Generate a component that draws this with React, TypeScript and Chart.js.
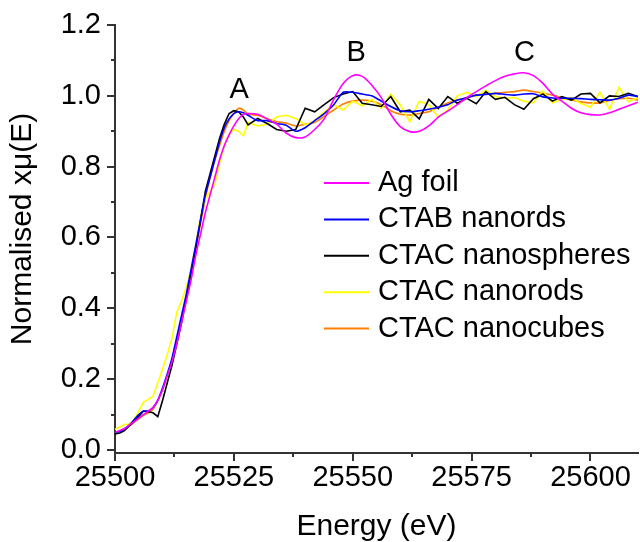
import React, { useEffect, useRef } from "react";
import { Chart, registerables } from "chart.js";

Chart.register(...registerables);

// Energy grid (eV)
const energy = [
  25500, 25501, 25502, 25503, 25504, 25505, 25506, 25507, 25508, 25509,
  25510, 25511, 25512, 25513, 25514, 25515, 25516, 25517, 25518, 25519,
  25520, 25521, 25522, 25523, 25524, 25525, 25526, 25527, 25528,
  25530, 25532, 25534, 25536, 25538, 25540, 25542, 25544, 25546, 25548,
  25550, 25552, 25554, 25556, 25558, 25560, 25562, 25564, 25566, 25568,
  25570, 25572, 25574, 25576, 25578, 25580, 25582, 25584, 25586, 25588,
  25590, 25592, 25594, 25596, 25598, 25600, 25602, 25604, 25606, 25608, 25610,
];

const agFoil = [
  0.05, 0.055, 0.06, 0.07, 0.08, 0.09, 0.1, 0.11, 0.12, 0.14,
  0.17, 0.21, 0.25, 0.3, 0.36, 0.42, 0.48, 0.55, 0.61, 0.67,
  0.72, 0.77, 0.82, 0.86, 0.89, 0.915, 0.935, 0.948, 0.95,
  0.948, 0.935, 0.92, 0.895, 0.882, 0.884, 0.905, 0.935, 0.99, 1.035,
  1.057, 1.055, 1.03, 0.995, 0.948, 0.913, 0.899, 0.9, 0.915, 0.94,
  0.957, 0.975, 0.995, 1.012, 1.028, 1.043, 1.055, 1.062, 1.065, 1.057,
  1.035, 1.005, 0.985, 0.965, 0.952, 0.947, 0.946, 0.952, 0.962, 0.972, 0.982,
];

const ctabNanords = [
  0.05, 0.052, 0.06, 0.07, 0.085, 0.1, 0.11, 0.11, 0.12, 0.14,
  0.175, 0.215, 0.26, 0.32, 0.38, 0.44, 0.51, 0.58, 0.65, 0.72,
  0.77, 0.82, 0.87, 0.91, 0.935, 0.95, 0.955, 0.952, 0.945,
  0.93, 0.93, 0.922, 0.917, 0.9, 0.91, 0.93, 0.95, 0.975, 1.01,
  1.01, 1.005, 1.0, 0.985, 0.97, 0.958, 0.955, 0.958, 0.962, 0.968,
  0.975, 0.988, 0.995, 1.002, 1.004, 1.007, 1.004, 1.002, 1.005, 1.006,
  0.997, 0.994, 0.993, 0.993, 0.992, 0.99, 0.989, 0.988, 0.993, 1.002, 0.998,
];

const ctacNanospheres = [
  0.045, 0.048, 0.055, 0.068, 0.08, 0.095, 0.11, 0.108, 0.105, 0.094,
  0.14, 0.19, 0.24, 0.3, 0.36, 0.43, 0.5, 0.57, 0.65, 0.73,
  0.78, 0.83, 0.88, 0.92, 0.95, 0.958, 0.955, 0.94, 0.918,
  0.936, 0.922, 0.905, 0.9, 0.905, 0.965, 0.955, 0.975, 0.995, 1.005,
  1.012, 0.979, 0.975, 0.97, 0.998, 0.955, 0.96, 0.935, 0.99, 0.964,
  0.998, 0.979, 0.993, 0.978, 1.012, 0.99, 0.996, 0.975, 0.962, 0.992,
  1.005, 0.985, 0.998, 0.988, 1.005, 1.007, 0.98, 1.0, 0.998, 1.007, 0.998,
];

const ctacNanorods = [
  0.058, 0.065, 0.072, 0.073, 0.085, 0.11, 0.135, 0.143, 0.152, 0.19,
  0.228, 0.27, 0.316, 0.39, 0.42, 0.46, 0.51, 0.58, 0.66, 0.71,
  0.73, 0.75, 0.81, 0.86, 0.89, 0.905, 0.9, 0.887, 0.925,
  0.915, 0.92, 0.94, 0.945, 0.936, 0.918, 0.93, 0.955, 0.975, 0.96,
  0.985, 0.972, 0.99, 0.965, 1.005, 0.974, 0.927, 0.985, 0.975, 0.94,
  0.96, 1.0, 1.01, 0.998, 1.016, 0.998, 0.993, 0.995, 0.985, 0.98,
  1.014, 0.98, 0.99, 0.995, 0.978, 0.968, 1.01, 0.962, 1.024, 0.983, 0.995,
];

const ctacNanocubes = [
  0.05, 0.053, 0.06, 0.068, 0.078, 0.088, 0.098, 0.105, 0.115, 0.14,
  0.17, 0.21, 0.255, 0.31, 0.37, 0.43, 0.5, 0.57, 0.64, 0.71,
  0.77, 0.82, 0.86, 0.9, 0.93, 0.95, 0.965, 0.96, 0.948,
  0.945, 0.935, 0.927, 0.923, 0.915, 0.92, 0.925, 0.942, 0.96, 0.977,
  0.985, 0.988, 0.985, 0.975, 0.958, 0.948, 0.946, 0.95, 0.955, 0.968,
  0.98, 0.988, 0.995, 1.002, 1.005, 1.007, 1.01, 1.012, 1.016, 1.012,
  1.007, 1.002, 0.995, 0.988, 0.983, 0.98, 0.98, 0.987, 0.992, 0.993, 0.988,
];

const seriesNames = ["Ag foil", "CTAB nanords", "CTAC nanospheres", "CTAC nanorods", "CTAC nanocubes"];
const seriesValues = [agFoil, ctabNanords, ctacNanospheres, ctacNanorods, ctacNanocubes];
const seriesColors = ["#FF00FF", "#0000FF", "#000000", "#FFFF00", "#FF7F00"];
const seriesTension = [0.3, 0.2, 0, 0, 0.2];

const xMajorTicks = [25500, 25525, 25550, 25575, 25600];
const xMinorTicks = [25512.5, 25537.5, 25562.5, 25587.5];
const yMajorTicks = [0, 0.2, 0.4, 0.6, 0.8, 1.0, 1.2];
const yMinorTicks = [0.1, 0.3, 0.5, 0.7, 0.9, 1.1];

const peakLabels = ["A", "B", "C"];
const peakEnergies = [25526.1, 25550.7, 25586.1];
const peakLevels = [1.016, 1.12, 1.12];

const xTitle = "Energy (eV)";
const yTitle = "Normalised x\u03BC(E)";

const FONT = "'Liberation Sans', Arial, Helvetica, sans-serif";
const AXIS_COLOR = "#333333";

const decorPlugin = {
  id: "decor",
  afterDraw(chart: any) {
    const ctx = chart.ctx as CanvasRenderingContext2D;
    const xs = chart.scales.x;
    const ys = chart.scales.y;
    const ca = chart.chartArea;
    ctx.save();

    // tick marks
    ctx.strokeStyle = AXIS_COLOR;
    ctx.lineWidth = 2;
    const tickX = (v: number, len: number) => {
      const px = Math.round(xs.getPixelForValue(v));
      ctx.beginPath();
      ctx.moveTo(px, ca.bottom);
      ctx.lineTo(px, ca.bottom + len);
      ctx.stroke();
    };
    const tickY = (v: number, len: number) => {
      const py = Math.round(ys.getPixelForValue(v));
      ctx.beginPath();
      ctx.moveTo(ca.left, py);
      ctx.lineTo(ca.left - len, py);
      ctx.stroke();
    };
    xMajorTicks.forEach((v) => tickX(v, 8));
    xMinorTicks.forEach((v) => tickX(v, 4));
    yMajorTicks.forEach((v) => tickY(v, 8));
    yMinorTicks.forEach((v) => tickY(v, 4));

    // peak labels
    ctx.fillStyle = "#000";
    ctx.font = `29px ${FONT}`;
    ctx.textAlign = "center";
    ctx.textBaseline = "middle";
    peakLabels.forEach((t, i) => {
      ctx.fillText(t, xs.getPixelForValue(peakEnergies[i]), ys.getPixelForValue(peakLevels[i]));
    });

    // legend
    const lx = ca.left + 209;
    const ly = ca.top + 158;
    const rowH = 36.4;
    ctx.textAlign = "left";
    seriesNames.forEach((name, i) => {
      const y = ly + i * rowH;
      ctx.strokeStyle = seriesColors[i];
      ctx.lineWidth = 2;
      ctx.beginPath();
      ctx.moveTo(lx, y);
      ctx.lineTo(lx + 45, y);
      ctx.stroke();
      ctx.fillStyle = "#000";
      ctx.fillText(name, lx + 54, y);
    });

    // axis titles
    ctx.font = `30px ${FONT}`;
    ctx.textAlign = "center";
    ctx.fillText(xTitle, (ca.left + ca.right) / 2, ca.bottom + 74);
    ctx.save();
    ctx.translate(23, (ca.top + ca.bottom) / 2 - 10);
    ctx.rotate(-Math.PI / 2);
    ctx.fillText(yTitle, 0, 0);
    ctx.restore();

    ctx.restore();
  },
};

export default function App() {
  const canvasRef = useRef<HTMLCanvasElement | null>(null);

  useEffect(() => {
    if (!canvasRef.current) return;
    const datasets = seriesNames.map((name, i) => ({
      label: name,
      data: energy.map((e, k) => ({ x: e, y: seriesValues[i][k] })),
      borderColor: seriesColors[i],
      backgroundColor: seriesColors[i],
      borderWidth: 1.6,
      pointRadius: 0,
      tension: seriesTension[i],
      fill: false,
    }));

    const chart = new Chart(canvasRef.current, {
      type: "line",
      data: { datasets },
      plugins: [decorPlugin],
      options: {
        animation: false,
        responsive: false,
        maintainAspectRatio: false,
        layout: { padding: { top: 25, right: 2, left: 0, bottom: 0 } },
        plugins: {
          legend: { display: false },
          tooltip: { enabled: false },
          title: { display: false },
        },
        scales: {
          x: {
            type: "linear",
            min: 25500,
            max: 25610,
            afterBuildTicks: (scale: any) => {
              scale.ticks = xMajorTicks.map((v) => ({ value: v }));
            },
            afterFit: (scale: any) => {
              scale.height = 89;
              scale.paddingLeft = 0;
              scale.paddingRight = 0;
            },
            grid: { display: false, drawTicks: false, tickLength: 0 },
            border: { display: true, color: AXIS_COLOR, width: 2 },
            ticks: {
              padding: 8,
              maxRotation: 0,
              autoSkip: false,
              color: "#000",
              font: { family: FONT, size: 29 },
              callback: (v: any) => String(v),
            },
          },
          y: {
            type: "linear",
            min: -0.0085,
            max: 1.2,
            afterBuildTicks: (scale: any) => {
              scale.ticks = yMajorTicks.map((v) => ({ value: v }));
            },
            afterFit: (scale: any) => {
              scale.width = 115;
              scale.paddingTop = 0;
              scale.paddingBottom = 0;
            },
            grid: { display: false, drawTicks: false, tickLength: 0 },
            border: { display: true, color: AXIS_COLOR, width: 2 },
            ticks: {
              padding: 14,
              autoSkip: false,
              color: "#000",
              font: { family: FONT, size: 29 },
              callback: (v: any) => Number(v).toFixed(1),
            },
          },
        },
      },
    });
    return () => chart.destroy();
  }, []);

  return (
    <div style={{ position: "fixed", left: 0, top: 0, width: 640, height: 542, background: "#fff" }}>
      <canvas ref={canvasRef} width={640} height={542} style={{ display: "block" }} />
    </div>
  );
}
